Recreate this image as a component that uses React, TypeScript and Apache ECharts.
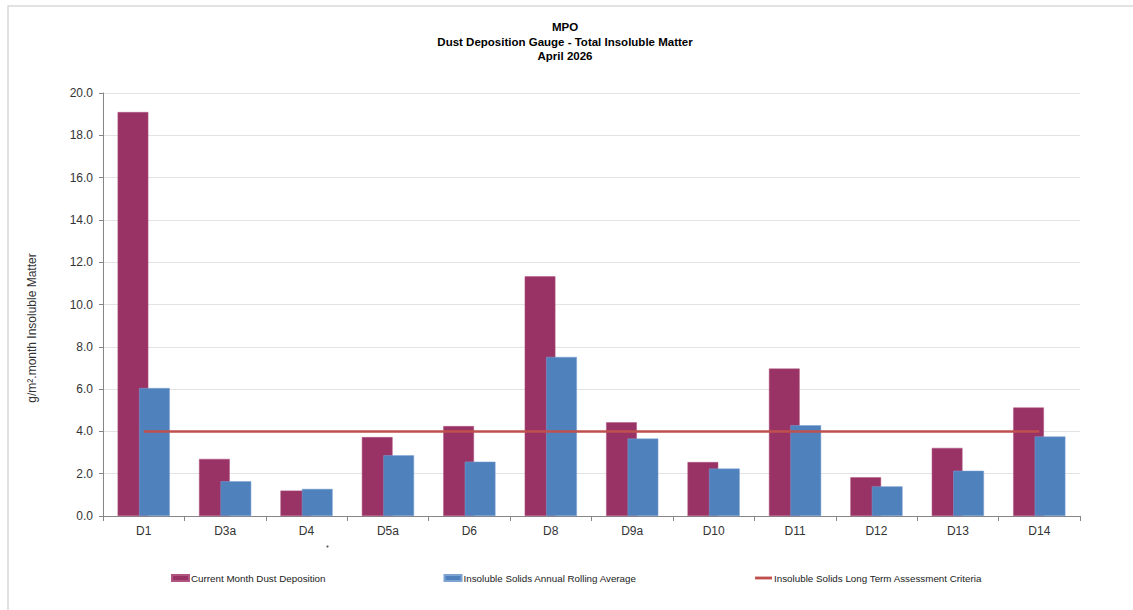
import React, { useEffect, useRef } from "react";
import * as echarts from "echarts";

const categories = ["D1", "D3a", "D4", "D5a", "D6", "D8", "D9a", "D10", "D11", "D12", "D13", "D14"];
const currentMonth = [19.1, 2.7, 1.2, 3.73, 4.25, 11.33, 4.43, 2.55, 6.97, 1.83, 3.22, 5.13];
const rollingAverage = [6.05, 1.64, 1.28, 2.87, 2.57, 7.52, 3.66, 2.24, 4.29, 1.4, 2.14, 3.76];
const criteria = [4, 4, 4, 4, 4, 4, 4, 4, 4, 4, 4, 4];
const seriesNames = [
  "Current Month Dust Deposition",
  "Insoluble Solids Annual Rolling Average",
  "Insoluble Solids Long Term Assessment Criteria",
];
const titleLines = ["MPO", "Dust Deposition Gauge - Total Insoluble Matter", "April 2026"];
const yAxisName = "g/m\u00B2.month Insoluble Matter";

const FONT = "'Liberation Sans', Arial, sans-serif";

export default function App() {
  const ref = useRef<HTMLDivElement>(null);

  useEffect(() => {
    if (!ref.current) return;
    const chart = echarts.init(ref.current, undefined, { renderer: "svg" });
    chart.setOption({
      animation: false,
      backgroundColor: "#ffffff",
      textStyle: { fontFamily: FONT },
      title: {
        text: titleLines.join("\n"),
        left: 560,
        textAlign: "center",
        top: 15,
        textStyle: {
          fontFamily: FONT,
          fontSize: 11.5,
          fontWeight: "bold",
          color: "#000000",
          lineHeight: 14.5,
        },
      },
      graphic: [
        {
          type: "rect",
          shape: { x: 8, y: 6, width: 1300, height: 800 },
          style: { fill: "none", stroke: "#d9d9d9", lineWidth: 1.5 },
          silent: true,
        },
        {
          type: "circle",
          shape: { cx: 327.5, cy: 546.5, r: 1.1 },
          style: { fill: "#555555" },
          silent: true,
        },
        {
          type: "text",
          x: 32,
          y: 328,
          rotation: Math.PI / 2,
          style: {
            text: yAxisName,
            fontFamily: FONT,
            fontSize: 12,
            fill: "#333333",
            align: "center",
            verticalAlign: "middle",
          },
          silent: true,
        },
      ],
      legend: {
        left: 171,
        top: 573,
        padding: 0,
        itemGap: 118,
        itemWidth: 17,
        itemHeight: 6,
        textStyle: { fontFamily: FONT, fontSize: 9.8, color: "#222222", padding: [0, 0, 0, -3] },
        data: [
          { name: seriesNames[0], icon: "rect" },
          { name: seriesNames[1], icon: "rect" },
          { name: seriesNames[2], icon: "path://M0 0H18V3H0Z" },
        ],
      },
      grid: { left: 103, right: 53, top: 93, bottom: 94, containLabel: false },
      xAxis: {
        type: "category",
        data: categories,
        boundaryGap: true,
        axisLine: { show: true, lineStyle: { color: "#868686", width: 1 } },
        axisTick: { show: true, length: 5, alignWithLabel: false, lineStyle: { color: "#868686" } },
        axisLabel: { fontFamily: FONT, fontSize: 12, color: "#333333", margin: 9 },
        splitLine: { show: false },
      },
      yAxis: {
        type: "value",
        min: 0,
        max: 20,
        interval: 2,
        axisLine: { show: true, lineStyle: { color: "#868686", width: 1 } },
        axisTick: { show: true, length: 4, lineStyle: { color: "#868686" } },
        axisLabel: {
          fontFamily: FONT,
          fontSize: 12,
          color: "#333333",
          margin: 10,
          formatter: (v: number) => v.toFixed(1),
        },
        splitLine: { show: true, lineStyle: { color: "#e3e3e3", width: 1 } },
      },
      series: [
        {
          name: seriesNames[0],
          type: "bar",
          data: currentMonth,
          barWidth: 30.7,
          barGap: "-30%",
          itemStyle: { color: "#993366", borderColor: "#b0557f", borderWidth: 0.5 },
          z: 2,
        },
        {
          name: seriesNames[1],
          type: "bar",
          data: rollingAverage,
          barWidth: 30.7,
          barGap: "-30%",
          itemStyle: { color: "#4F81BD", borderColor: "#7ea3d3", borderWidth: 0.5 },
          z: 3,
        },
        {
          name: seriesNames[2],
          type: "line",
          data: criteria,
          symbol: "none",
          showSymbol: false,
          lineStyle: { color: "#C0504D", width: 2.5 },
          itemStyle: { color: "#C0504D" },
          z: 5,
        },
      ],
    });
    return () => chart.dispose();
  }, []);

  return (
    <div
      ref={ref}
      style={{ position: "fixed", left: 0, top: 0, width: 1133, height: 610, background: "#fff" }}
    />
  );
}
